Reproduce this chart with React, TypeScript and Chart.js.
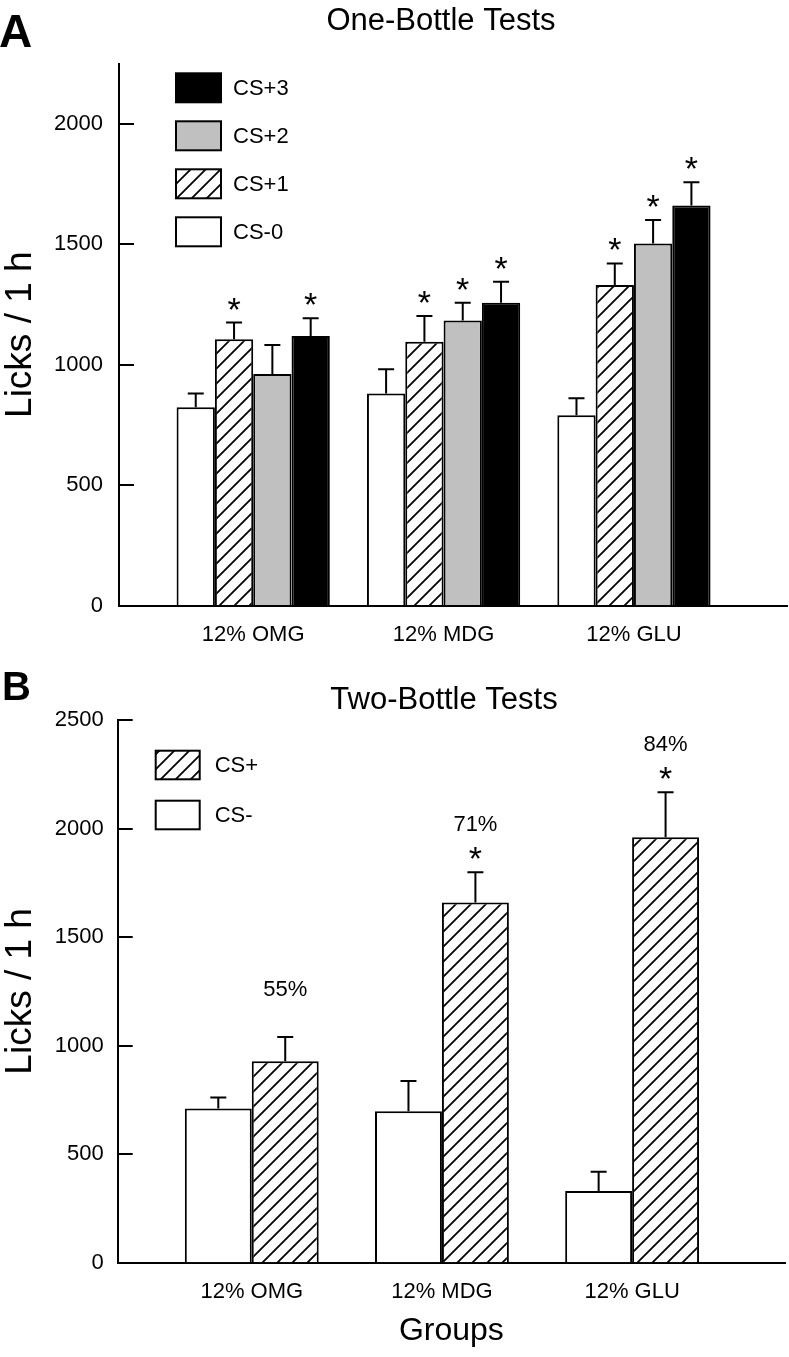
import React, { useEffect, useRef } from 'react';
import { Chart, registerables } from 'chart.js';

Chart.register(...registerables);

const FONT = '"Liberation Sans", Arial, Helvetica, sans-serif';
Chart.defaults.font.family = FONT;
Chart.defaults.color = '#000';

// ---------- shared ----------
const groups = ['12% OMG', '12% MDG', '12% GLU'];

// ---------- Panel A: One-Bottle Tests ----------
const titleA = 'One-Bottle Tests';
const seriesA = ['CS-0', 'CS+1', 'CS+2', 'CS+3'];
const aCS0 = [823, 881, 790];
const aCS1 = [1106, 1096, 1331];
const aCS2 = [962, 1184, 1504];
const aCS3 = [1119, 1258, 1661];
const aCS0Sem = [58, 100, 71];
const aCS1Sem = [69, 106, 90];
const aCS2Sem = [120, 74, 97];
const aCS3Sem = [74, 87, 97];
const aCS0Sig = [false, false, false];
const aCS1Sig = [true, true, true];
const aCS2Sig = [false, true, true];
const aCS3Sig = [true, true, true];
const yTicksA = [0, 500, 1000, 1500, 2000];
const yMaxA = 2250;

// ---------- Panel B: Two-Bottle Tests ----------
const titleB = 'Two-Bottle Tests';
const seriesB = ['CS-', 'CS+'];
const bMinus = [710, 698, 330];
const bPlus = [928, 1659, 1960];
const bMinusSem = [51, 139, 89];
const bPlusSem = [112, 140, 207];
const bMinusSig = [false, false, false];
const bPlusSig = [false, true, true];
const bPreference = ['55%', '71%', '84%'];
const yTicksB = [0, 500, 1000, 1500, 2000, 2500];
const yMaxB = 2500;

const yTitle = 'Licks / 1 h';
const xTitleB = 'Groups';

function makeHatch(): CanvasPattern | string {
  const s = 15;
  const c = document.createElement('canvas');
  c.width = s;
  c.height = s;
  const g = c.getContext('2d');
  if (!g) return '#fff';
  g.fillStyle = '#fff';
  g.fillRect(0, 0, s, s);
  g.strokeStyle = '#000';
  g.lineWidth = 1.8;
  g.beginPath();
  g.moveTo(-1, s + 1);
  g.lineTo(s + 1, -1);
  g.moveTo(-3, 3);
  g.lineTo(3, -3);
  g.moveTo(s - 3, s + 3);
  g.lineTo(s + 3, s - 3);
  g.stroke();
  const p = g.createPattern(c, 'repeat');
  return p || '#fff';
}

const toPts = (arr: number[]) => arr.map((v, i) => ({ x: i, y: v }));

interface PanelLayout {
  letter: string;
  letterFont: string;
  letterX: number;
  letterY: number;
  title: string;
  titleX: number;
  titleY: number;
  legendDx: number;
  legendDy: number;
  legendW: number;
  legendH: number;
  legendStep: number;
  legendTextGap: number;
}

function overlayPlugin(id: string, L: PanelLayout) {
  return {
    id,
    afterDatasetsDraw(chart: any) {
      const ctx: CanvasRenderingContext2D = chart.ctx;
      const ys = chart.scales.y;
      const ca = chart.chartArea;
      ctx.save();
      // inward tick marks on the y axis
      ctx.strokeStyle = '#000';
      ctx.lineWidth = 2;
      ys.ticks.forEach((t: any) => {
        const py = Math.round(ys.getPixelForValue(t.value));
        ctx.beginPath();
        ctx.moveTo(ca.left, py);
        ctx.lineTo(ca.left + 15, py);
        ctx.stroke();
      });
      // error bars, asterisks, percentages
      chart.data.datasets.forEach((ds: any, di: number) => {
        const meta = chart.getDatasetMeta(di);
        meta.data.forEach((bar: any, i: number) => {
          const v = ds.data[i].y;
          const top = ys.getPixelForValue(v + ds.sem[i]);
          ctx.strokeStyle = '#000';
          ctx.lineWidth = 2;
          ctx.beginPath();
          ctx.moveTo(bar.x, bar.y);
          ctx.lineTo(bar.x, top);
          ctx.moveTo(bar.x - 8, top);
          ctx.lineTo(bar.x + 8, top);
          ctx.stroke();
          ctx.fillStyle = '#000';
          ctx.textAlign = 'center';
          if (ds.sig && ds.sig[i]) {
            ctx.font = `34px ${FONT}`;
            ctx.textBaseline = 'alphabetic';
            ctx.fillText('*', bar.x, top - 2);
          }
          if (ds.pct) {
            ctx.font = `22px ${FONT}`;
            ctx.textBaseline = 'middle';
            ctx.fillText(ds.pct[i], bar.x, top - 47);
          }
        });
      });
      ctx.restore();
    },
    afterDraw(chart: any) {
      const ctx: CanvasRenderingContext2D = chart.ctx;
      const ca = chart.chartArea;
      ctx.save();
      ctx.fillStyle = '#000';
      // panel letter
      ctx.font = L.letterFont;
      ctx.textAlign = 'left';
      ctx.textBaseline = 'alphabetic';
      ctx.fillText(L.letter, L.letterX, L.letterY);
      // panel title
      ctx.font = `31px ${FONT}`;
      ctx.textAlign = 'center';
      ctx.textBaseline = 'middle';
      ctx.fillText(L.title, L.titleX, L.titleY);
      // legend (reverse order, top item = last series)
      const dsList = chart.data.datasets.slice().reverse();
      dsList.forEach((ds: any, k: number) => {
        const bx = ca.left + L.legendDx;
        const by = ca.top + L.legendDy + k * L.legendStep;
        ctx.fillStyle = ds.backgroundColor;
        ctx.fillRect(bx, by, L.legendW, L.legendH);
        ctx.strokeStyle = '#000';
        ctx.lineWidth = 2;
        ctx.strokeRect(bx, by, L.legendW, L.legendH);
        ctx.fillStyle = '#000';
        ctx.font = `22px ${FONT}`;
        ctx.textAlign = 'left';
        ctx.textBaseline = 'middle';
        ctx.fillText(ds.label, bx + L.legendW + L.legendTextGap, by + L.legendH / 2 + 1);
      });
      ctx.restore();
    },
  };
}

function baseScales(yTicks: number[], yMax: number, yWidth: number, xHeight: number, yPad: number, withXTitle: boolean) {
  return {
    x: {
      type: 'linear',
      bounds: 'data',
      min: -0.705,
      max: 2.804,
      offset: false,
      grid: { display: true, drawOnChartArea: false, drawTicks: false, offset: false },
      border: { display: true, width: 2, color: '#000' },
      afterBuildTicks: (s: any) => {
        s.ticks = groups.map((_, i) => ({ value: i }));
      },
      ticks: {
        callback: (v: any) => groups[v as number] ?? '',
        font: { size: 22, family: FONT },
        color: '#000',
        padding: 16,
        maxRotation: 0,
        minRotation: 0,
        autoSkip: false,
      },
      title: withXTitle
        ? { display: true, text: xTitleB, font: { size: 32, family: FONT }, color: '#000', padding: { top: 0, bottom: 7 } }
        : { display: false },
      afterFit: (s: any) => {
        s.height = xHeight;
      },
    },
    y: {
      type: 'linear',
      bounds: 'data',
      min: 0,
      max: yMax,
      grid: { display: true, drawOnChartArea: false, drawTicks: false },
      border: { display: true, width: 2, color: '#000' },
      afterBuildTicks: (s: any) => {
        s.ticks = yTicks.map((v) => ({ value: v }));
      },
      ticks: {
        callback: (v: any) => String(v),
        font: { size: 22, family: FONT },
        color: '#000',
        padding: yPad,
      },
      title: {
        display: true,
        text: yTitle,
        font: { size: 37, family: FONT, lineHeight: 1.15 },
        color: '#000',
        padding: { top: 0, bottom: 0 },
      },
      afterFit: (s: any) => {
        s.width = yWidth;
      },
    },
  };
}

export default function App() {
  const refA = useRef<HTMLCanvasElement | null>(null);
  const refB = useRef<HTMLCanvasElement | null>(null);

  useEffect(() => {
    const hatch = makeHatch();
    const common = { borderColor: '#000', borderWidth: 2, borderSkipped: 'start' };

    const chartA = new Chart(refA.current as HTMLCanvasElement, {
      type: 'bar',
      data: {
        datasets: [
          { ...common, label: seriesA[0], data: toPts(aCS0), backgroundColor: '#ffffff', sem: aCS0Sem, sig: aCS0Sig },
          { ...common, label: seriesA[1], data: toPts(aCS1), backgroundColor: hatch, sem: aCS1Sem, sig: aCS1Sig },
          { ...common, label: seriesA[2], data: toPts(aCS2), backgroundColor: '#c0c0c0', sem: aCS2Sem, sig: aCS2Sig },
          { ...common, label: seriesA[3], data: toPts(aCS3), backgroundColor: '#000000', sem: aCS3Sem, sig: aCS3Sig },
        ] as any,
      },
      options: {
        responsive: false,
        animation: false,
        devicePixelRatio: 1,
        layout: { padding: { left: 0, right: 2, top: 63.8, bottom: 0 } },
        datasets: { bar: { categoryPercentage: 0.805, barPercentage: 1 } },
        plugins: { legend: { display: false }, tooltip: { enabled: false }, title: { display: false } },
        scales: baseScales(yTicksA, yMaxA, 119, 64.5, 16, false) as any,
      } as any,
      plugins: [
        overlayPlugin('overlayA', {
          letter: 'A',
          letterFont: `bold 46px ${FONT}`,
          letterX: -1,
          letterY: 47,
          title: titleA,
          titleX: 441,
          titleY: 21,
          legendDx: 57,
          legendDy: 9.5,
          legendW: 45,
          legendH: 29,
          legendStep: 48,
          legendTextGap: 12,
        }),
      ],
    } as any);

    const chartB = new Chart(refB.current as HTMLCanvasElement, {
      type: 'bar',
      data: {
        datasets: [
          { ...common, label: seriesB[0], data: toPts(bMinus), backgroundColor: '#ffffff', sem: bMinusSem, sig: bMinusSig },
          { ...common, label: seriesB[1], data: toPts(bPlus), backgroundColor: hatch, sem: bPlusSem, sig: bPlusSig, pct: bPreference },
        ] as any,
      },
      options: {
        responsive: false,
        animation: false,
        devicePixelRatio: 1,
        layout: { padding: { left: 0, right: 4, top: 50, bottom: 0 } },
        datasets: { bar: { categoryPercentage: 0.704, barPercentage: 1 } },
        plugins: { legend: { display: false }, tooltip: { enabled: false }, title: { display: false } },
        scales: baseScales(yTicksB, yMaxB, 117.7, 94.3, 14, true) as any,
      } as any,
      plugins: [
        overlayPlugin('overlayB', {
          letter: 'B',
          letterFont: `bold 40px ${FONT}`,
          letterX: 2,
          letterY: 30,
          title: titleB,
          titleX: 444,
          titleY: 30,
          legendDx: 38,
          legendDy: 30.7,
          legendW: 44,
          legendH: 28.6,
          legendStep: 50,
          legendTextGap: 15,
        }),
      ],
    } as any);

    return () => {
      chartA.destroy();
      chartB.destroy();
    };
  }, []);

  return (
    <div style={{ position: 'absolute', left: 0, top: 0, width: 789, height: 1357, background: '#fff' }}>
      <canvas ref={refA} width={789} height={670} style={{ display: 'block', width: 789, height: 670 }} />
      <canvas ref={refB} width={789} height={687} style={{ display: 'block', width: 789, height: 687 }} />
    </div>
  );
}
